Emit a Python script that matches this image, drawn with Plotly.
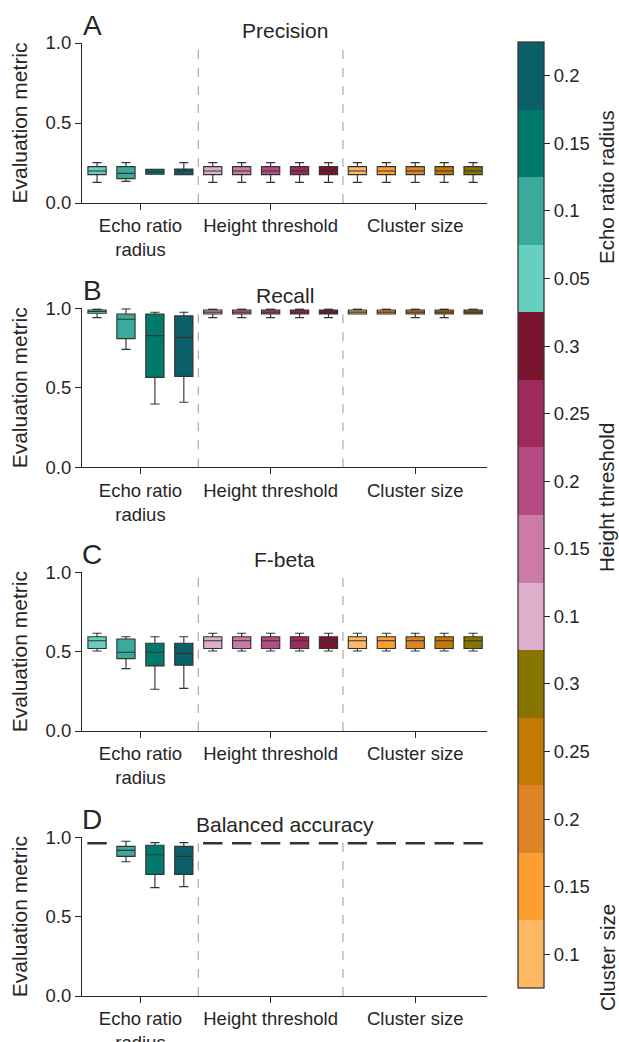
import plotly.graph_objects as go

W, H = 619, 1042

# ---------------- data ----------------
group_labels = ["Echo ratio<br>radius", "Height threshold", "Cluster size"]
echo_values = ["0.05", "0.1", "0.15", "0.2"]
height_values = ["0.1", "0.15", "0.2", "0.25", "0.3"]
cluster_values = ["0.1", "0.15", "0.2", "0.25", "0.3"]

echo_colors = ["#66cfbf", "#3aab9a", "#017a6b", "#0b5f68"]
height_colors = ["#deaecb", "#cb7ba6", "#b64a82", "#9e2a5c", "#7a1530"]
cluster_colors = ["#fdb863", "#fd9e30", "#de8526", "#c27a05", "#8a7400"]

panel_titles = ["Precision", "Recall", "F-beta", "Balanced accuracy"]
panel_letters = ["A", "B", "C", "D"]

# box statistics, 14 boxes per panel (echo x4, height x5, cluster x5)
precision_lo = [0.129, 0.135, 0.180, 0.177] + [0.129] * 10
precision_q1 = [0.177, 0.152, 0.180, 0.177] + [0.177] * 10
precision_med = [0.200, 0.185, 0.195, 0.200] + [0.200] * 10
precision_q3 = [0.227, 0.227, 0.210, 0.212] + [0.227] * 10
precision_hi = [0.252, 0.252, 0.210, 0.252] + [0.252] * 10

recall_lo = [0.941, 0.742, 0.398, 0.409] + [0.941] * 5 + [0.964, 0.964, 0.941, 0.941, 0.964]
recall_q1 = [0.969, 0.809, 0.566, 0.572] + [0.964] * 10
recall_med = [0.980, 0.931, 0.828, 0.817] + [0.976] * 10
recall_q3 = [0.989, 0.964, 0.964, 0.952] + [0.989] * 10
recall_hi = [0.995, 0.996, 0.975, 0.975] + [0.995] * 10

fbeta_lo = [0.504, 0.393, 0.263, 0.269] + [0.504] * 10
fbeta_q1 = [0.520, 0.456, 0.410, 0.414] + [0.520] * 10
fbeta_med = [0.569, 0.496, 0.496, 0.489] + [0.569] * 10
fbeta_q3 = [0.594, 0.580, 0.553, 0.553] + [0.594] * 10
fbeta_hi = [0.616, 0.594, 0.594, 0.594] + [0.616] * 10

balacc_lo = [0.958, 0.846, 0.683, 0.689] + [0.958] * 10
balacc_q1 = [0.958, 0.880, 0.766, 0.766] + [0.958] * 10
balacc_med = [0.962, 0.918, 0.890, 0.880] + [0.962] * 10
balacc_q3 = [0.966, 0.943, 0.950, 0.943] + [0.966] * 10
balacc_hi = [0.966, 0.975, 0.966, 0.966] + [0.966] * 10

panels = [
    (precision_lo, precision_q1, precision_med, precision_q3, precision_hi),
    (recall_lo, recall_q1, recall_med, recall_q3, recall_hi),
    (fbeta_lo, fbeta_q1, fbeta_med, fbeta_q3, fbeta_hi),
    (balacc_lo, balacc_q1, balacc_med, balacc_q3, balacc_hi),
]

box_colors = echo_colors + height_colors + cluster_colors
n_echo, n_height, n_cluster = len(echo_values), len(height_values), len(cluster_values)
n_boxes = n_echo + n_height + n_cluster
positions = list(range(n_boxes))
group_ticks = [
    (n_echo - 1) / 2,
    n_echo + (n_height - 1) / 2,
    n_echo + n_height + (n_cluster - 1) / 2,
]
separators = [n_echo - 0.5, n_echo + n_height - 0.5]

# ---------------- layout geometry (pixels) ----------------
x_left, x_right = 82, 487
axis_tops = [43, 308.3, 572.3, 837.3]
axis_bottoms = [203, 467.3, 731, 996]

TXT = "#262626"
FONT = "Liberation Sans, Arial, sans-serif"

def px_x(p):
    return p / W

def px_y(p):
    return 1 - p / H

fig = go.Figure()
layout = dict(
    width=W, height=H,
    margin=dict(l=0, r=0, t=0, b=0, autoexpand=False),
    paper_bgcolor="white", plot_bgcolor="white",
    boxmode="overlay", showlegend=False,
    font=dict(family=FONT, color=TXT),
)

annotations = []
shapes = []
for k, stats in enumerate(panels):
    lo, q1, med, q3, hi = stats
    xa = "x" if k == 0 else f"x{k+1}"
    ya = "y" if k == 0 else f"y{k+1}"
    for i in range(n_boxes):
        fig.add_trace(go.Box(
            x=[positions[i]], q1=[q1[i]], median=[med[i]], q3=[q3[i]],
            lowerfence=[lo[i]], upperfence=[hi[i]],
            width=0.63, whiskerwidth=0.5,
            fillcolor=box_colors[i],
            line=dict(color="#333333", width=1.15),
            boxpoints=False, hoverinfo="skip",
            xaxis=xa, yaxis=ya,
        ))
    xkey = "xaxis" if k == 0 else f"xaxis{k+1}"
    ykey = "yaxis" if k == 0 else f"yaxis{k+1}"
    layout[xkey] = dict(
        domain=[px_x(x_left), px_x(x_right)], anchor=ya,
        range=[-0.52, n_boxes - 0.52],
        tickmode="array", tickvals=group_ticks, ticktext=group_labels,
        ticks="outside", ticklen=6, tickwidth=1.25, tickcolor=TXT,
        showline=True, linecolor=TXT, linewidth=1.25,
        showgrid=False, zeroline=False,
        tickfont=dict(size=18.5, color=TXT),
    )
    layout[ykey] = dict(
        domain=[px_y(axis_bottoms[k]), px_y(axis_tops[k])], anchor=xa,
        range=[0, 1], tickmode="array", tickvals=[0, 0.5, 1],
        tickformat=".1f",
        ticks="outside", ticklen=6, tickwidth=1.25, tickcolor=TXT,
        showline=True, linecolor=TXT, linewidth=1.25,
        showgrid=False, zeroline=False,
        tickfont=dict(size=18.5, color=TXT),
        title=dict(text="Evaluation metric", font=dict(size=21, color=TXT), standoff=12),
    )
    for s in separators:
        shapes.append(dict(
            type="line", xref=xa, yref=f"{ya} domain", x0=s, x1=s, y0=0, y1=1,
            line=dict(color="#999999", width=1, dash="dash"),
        ))
    annotations.append(dict(
        text=panel_titles[k], xref="paper", yref="paper",
        x=px_x((x_left + x_right) / 2), y=px_y(axis_tops[k] - 13),
        xanchor="center", yanchor="middle", showarrow=False,
        font=dict(size=21, color=TXT),
    ))
    annotations.append(dict(
        text=panel_letters[k], xref="paper", yref="paper",
        x=px_x(92), y=px_y(axis_tops[k] - 18),
        xanchor="center", yanchor="middle", showarrow=False,
        font=dict(size=28, color=TXT),
    ))

# ---------------- discrete colorbar ----------------
cb_colors = cluster_colors + height_colors + echo_colors  # bottom -> top
cb_text = cluster_values + height_values + echo_values
n_cb = len(cb_colors)
colorscale = []
for j, c in enumerate(cb_colors):
    colorscale.append([j / n_cb, c])
    colorscale.append([(j + 1) / n_cb, c])

cb_top, cb_bottom = 42, 988
fig.add_trace(go.Scatter(
    x=[0], y=[-5], mode="markers", xaxis="x", yaxis="y",
    marker=dict(
        color=[0], cmin=0, cmax=n_cb, colorscale=colorscale, showscale=True,
        colorbar=dict(
            thickness=26, thicknessmode="pixels",
            len=(cb_bottom - cb_top) / H, lenmode="fraction",
            x=px_x(518), xanchor="left", y=px_y(cb_top), yanchor="top",
            xpad=0, ypad=0,
            outlinewidth=1.25, outlinecolor="#333333",
            tickmode="array", tickvals=[j + 0.5 for j in range(n_cb)], ticktext=cb_text,
            ticks="outside", ticklen=6, tickwidth=1.25, tickcolor=TXT,
            tickfont=dict(size=18.5, color=TXT),
        ),
    ),
    hoverinfo="skip",
))

cb_titles = [("Echo ratio radius", 187), ("Height threshold", 498), ("Cluster size", 958)]
for t, yc in cb_titles:
    annotations.append(dict(
        text=t, xref="paper", yref="paper", x=px_x(607), y=px_y(yc),
        xanchor="center", yanchor="middle", textangle=-90, showarrow=False,
        font=dict(size=20.5, color=TXT),
    ))

layout["annotations"] = annotations
layout["shapes"] = shapes
fig.update_layout(**layout)
fig.write_html("out.html", config={"displayModeBar": False},
               post_script="document.body.style.margin='0px';")
